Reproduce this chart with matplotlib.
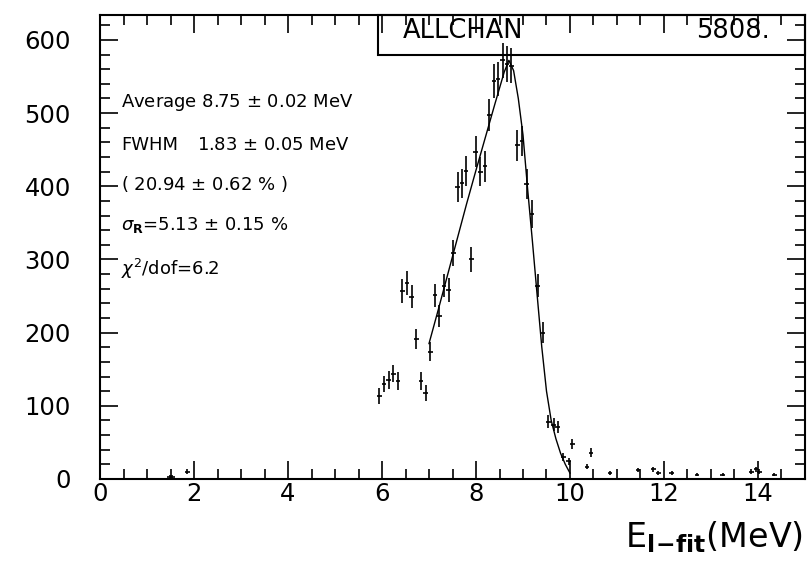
import numpy as np
import matplotlib.pyplot as plt
from matplotlib.ticker import MultipleLocator
from matplotlib.patches import Rectangle

plt.rcParams['font.family'] = ['DejaVu Sans']
plt.rcParams['mathtext.fontset'] = 'dejavusans'

# histogram points (bin centre in MeV, counts, error)
energy = [1.48, 1.54, 1.86,
          5.94, 6.04, 6.14, 6.24, 6.34, 6.43, 6.53, 6.63, 6.73, 6.83, 6.93,
          7.03, 7.13, 7.22, 7.32, 7.42, 7.52, 7.61, 7.70, 7.79, 7.90, 7.99,
          8.09, 8.19, 8.28, 8.38, 8.47, 8.57, 8.66, 8.75, 8.88, 8.98, 9.08,
          9.19, 9.31, 9.42, 9.54, 9.65, 9.74, 9.86, 9.97, 10.05,
          10.36, 10.45, 10.85, 11.45, 11.77, 11.88, 12.16, 12.70, 13.25,
          13.86, 13.96, 14.03, 14.35]
counts = [3, 3, 10,
          113, 130, 135, 144, 134, 257, 268, 249, 191, 134, 118,
          174, 251, 223, 264, 258, 309, 399, 404, 421, 300, 447,
          420, 427, 497, 544, 547, 572, 567, 565, 456, 462, 403,
          362, 264, 200, 78, 74, 71, 30, 24, 48,
          17, 36, 8, 12, 13, 8, 8, 6, 6,
          10, 13, 10, 6]
errors = [2, 2, 3,
          11, 11, 12, 12, 12, 16, 16, 16, 14, 12, 11,
          13, 16, 15, 16, 16, 18, 20, 20, 21, 17, 21,
          20, 21, 22, 23, 23, 24, 24, 24, 21, 21, 20,
          19, 16, 14, 9, 9, 8, 5, 5, 7,
          4, 6, 3, 3, 4, 3, 3, 2, 2,
          3, 4, 3, 2]

# fitted curve
fit_x = [7.0, 7.2, 7.4, 7.6, 7.8, 8.0, 8.2, 8.4, 8.6, 8.7, 8.8, 8.9,
         9.0, 9.1, 9.2, 9.3, 9.4, 9.5, 9.6, 9.7, 9.8, 9.9, 10.0]
fit_y = [185, 232, 280, 328, 376, 422, 467, 512, 556, 572, 558, 520,
         470, 395, 325, 252, 180, 120, 80, 55, 35, 20, 8]

stats_lines = ['Average 8.75 $\\pm$ 0.02 MeV',
               '( 20.94 $\\pm$ 0.62 % )',
               '$\\sigma_{\\mathbf{R}}$=5.13 $\\pm$ 0.15 %',
               '$\\chi^2$/dof=6.2']

fig = plt.figure(figsize=(8.1, 5.75), dpi=100)
ax = fig.add_axes([0.1235, 0.167, 0.8703, 0.8069])

ax.errorbar(energy, counts, yerr=errors, xerr=0.05, fmt='none',
            ecolor='black', elinewidth=1.2, capsize=0, zorder=3)
ax.plot(fit_x, fit_y, color='black', linewidth=1.0, zorder=2)

ax.set_xlim(0, 15)
ax.set_ylim(0, 634)
ax.xaxis.set_major_locator(MultipleLocator(2))
ax.xaxis.set_minor_locator(MultipleLocator(0.5))
ax.yaxis.set_major_locator(MultipleLocator(100))
ax.yaxis.set_minor_locator(MultipleLocator(20))
ax.tick_params(which='both', direction='in', top=True, right=True,
               width=1.2, labelsize=17.5)
ax.tick_params(which='major', length=13)
ax.tick_params(which='minor', length=7)
ax.tick_params(axis='y', pad=21)
ax.tick_params(axis='x', pad=2)
for sp in ax.spines.values():
    sp.set_linewidth(1.5)

# stats box on top of the frame
ax.add_patch(Rectangle((0.394, 0.914), 0.606, 0.086, transform=ax.transAxes,
                       fill=False, linewidth=1.5, clip_on=False, zorder=4))
ax.text(0.43, 0.966, 'ALLCHAN', transform=ax.transAxes, fontsize=18.5,
        ha='left', va='center')
ax.text(0.95, 0.966, '5808.', transform=ax.transAxes, fontsize=18.5,
        ha='right', va='center')

ax.text(0.030, 0.802, stats_lines[0], transform=ax.transAxes, fontsize=13,
        va='baseline')
ax.text(0.030, 0.709, 'FWHM', transform=ax.transAxes, fontsize=13,
        va='baseline')
ax.text(0.1376, 0.709, '1.83 $\\pm$ 0.05 MeV', transform=ax.transAxes,
        fontsize=13, va='baseline')
ax.text(0.030, 0.623, stats_lines[1], transform=ax.transAxes, fontsize=13,
        va='baseline')
ax.text(0.030, 0.537, stats_lines[2], transform=ax.transAxes, fontsize=13,
        va='baseline')
ax.text(0.030, 0.440, stats_lines[3], transform=ax.transAxes, fontsize=13,
        va='baseline')

fig.text(0.991, 0.0487, 'E$_{\\mathbf{l\\!-\\!fit}}$(MeV)', fontsize=24,
         ha='right', va='baseline')

plt.savefig('out.png', dpi=100)
